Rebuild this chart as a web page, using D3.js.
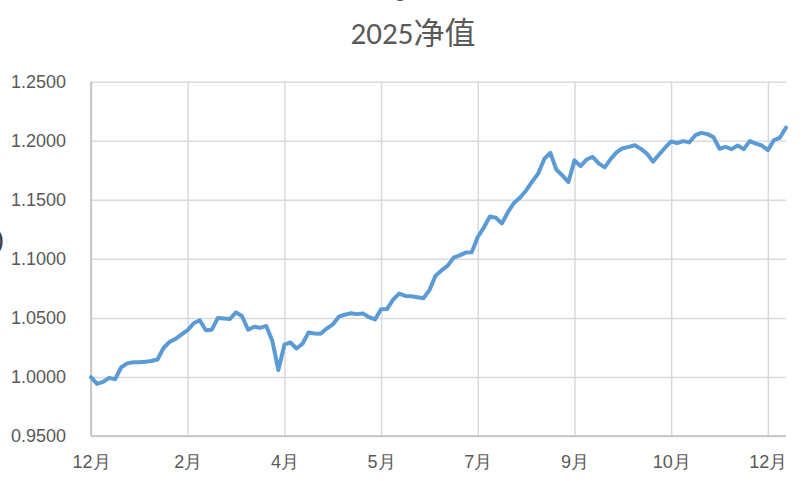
<!DOCTYPE html>
<html>
<head>
<meta charset="utf-8">
<script src="https://cdn.jsdelivr.net/npm/d3@7"></script>
<style>
	body { margin: 0; background: #fff; }
	svg { display: block; font-family: Calibri, Carlito, Roboto, 'Noto Sans CJK SC', sans-serif; }
	.grid line { stroke: #d9d9d9; stroke-width: 1.5; }
	.grid path { display: none; }
	.label text { fill: #595959; }
	.label path, .label line { display: none; }
</style>
</head>
<body>
<div id="chart"></div>
<script>
var title = '2025净值';
var yTicks = [0.95, 1.00, 1.05, 1.10, 1.15, 1.20, 1.25];
var xTickIndex = [0, 16, 32, 48, 64, 80, 96, 112];
var xTickLabels = ['12月', '2月', '4月', '5月', '7月', '9月', '10月', '12月'];
var values = [
	0.9998, 0.9941, 0.9958, 0.9992, 0.9981, 1.0082, 1.0115, 1.0124, 1.0125, 1.0128,
	1.0135, 1.0148, 1.0245, 1.0297, 1.0322, 1.0361, 1.0397, 1.0455, 1.0480, 1.0395,
	1.0400, 1.0500, 1.0495, 1.0491, 1.0547, 1.0514, 1.0400, 1.0425, 1.0416, 1.0432,
	1.0307, 1.0059, 1.0273, 1.0292, 1.0241, 1.0281, 1.0376, 1.0368, 1.0366, 1.0410,
	1.0445, 1.0510, 1.0527, 1.0539, 1.0532, 1.0538, 1.0506, 1.0487, 1.0574, 1.0576,
	1.0656, 1.0706, 1.0686, 1.0684, 1.0675, 1.0666, 1.0735, 1.0857, 1.0902, 1.0940,
	1.1010, 1.1029, 1.1053, 1.1055, 1.1185, 1.1265, 1.1358, 1.1348, 1.1300, 1.1397,
	1.1473, 1.1520, 1.1579, 1.1654, 1.1723, 1.1846, 1.1898, 1.1756, 1.1706, 1.1650,
	1.1834, 1.1786, 1.1841, 1.1863, 1.1809, 1.1775, 1.1846, 1.1903, 1.1937, 1.1948,
	1.1962, 1.1931, 1.1890, 1.1823, 1.1883, 1.1941, 1.1994, 1.1981, 1.1997, 1.1986,
	1.2047, 1.2067, 1.2056, 1.2031, 1.1932, 1.1948, 1.1929, 1.1960, 1.1929, 1.1997,
	1.1976, 1.1960, 1.1920, 1.2004, 1.2027, 1.2111
];

(function() {
	var width = 809, height = 481;
	var plot = { left: 91, right: 786, top: 81.7, bottom: 436 };

	var svg = d3.select('#chart').append('svg')
		.attr('width', width)
		.attr('height', height);

	var x = d3.scaleLinear()
		.domain([0, values.length - 1])
		.range([plot.left, plot.right]);
	var y = d3.scaleLinear()
		.domain([0.95, 1.25])
		.range([plot.bottom, plot.top]);

	// horizontal grid
	svg.append('g')
		.attr('class', 'grid')
		.attr('transform', 'translate(' + plot.left + ',0)')
		.call(d3.axisLeft(y).tickValues(yTicks).tickSize(-(plot.right - plot.left)).tickFormat(''));

	// vertical grid at the category labels
	svg.append('g')
		.attr('class', 'grid')
		.attr('transform', 'translate(0,' + plot.top + ')')
		.call(d3.axisTop(x).tickValues(xTickIndex).tickSize(-(plot.bottom - plot.top)).tickFormat(''));

	// axis lines
	svg.append('line')
		.attr('x1', plot.left).attr('x2', plot.left)
		.attr('y1', plot.top).attr('y2', plot.bottom)
		.attr('stroke', '#bfbfbf').attr('stroke-width', 1.5);
	svg.append('line')
		.attr('x1', plot.left).attr('x2', plot.right)
		.attr('y1', plot.bottom).attr('y2', plot.bottom)
		.attr('stroke', '#bfbfbf').attr('stroke-width', 1.5);

	// tick labels
	svg.append('g')
		.attr('class', 'label')
		.attr('transform', 'translate(66,0)')
		.call(d3.axisLeft(y).tickValues(yTicks).tickSize(0).tickPadding(0).tickFormat(d3.format('.4f')))
		.selectAll('text')
		.attr('font-size', 18)
		.attr('font-family', null);

	svg.append('g')
		.attr('class', 'label')
		.attr('transform', 'translate(0,' + plot.bottom + ')')
		.call(d3.axisBottom(x).tickValues(xTickIndex).tickSize(0).tickPadding(19)
			.tickFormat(function(d, i) { return xTickLabels[i]; }))
		.selectAll('text')
		.attr('font-size', 18)
		.attr('font-family', null);

	var line = d3.line()
		.x(function(d, i) { return x(i); })
		.y(function(d) { return y(d); });

	svg.append('path')
		.datum(values)
		.attr('d', line)
		.attr('fill', 'none')
		.attr('stroke', '#5b9bd5')
		.attr('stroke-width', 4)
		.attr('stroke-linejoin', 'round')
		.attr('stroke-linecap', 'round');

	svg.append('text')
		.attr('x', 413)
		.attr('y', 44)
		.attr('text-anchor', 'middle')
		.attr('font-size', 31)
		.attr('fill', '#595959')
		.text(title);

	// bits of cut off text at the edges
	svg.append('text')
		.attr('x', -3).attr('y', 248)
		.attr('font-size', 22)
		.attr('font-weight', 'bold')
		.attr('fill', '#404040')
		.text(')');
	svg.append('text')
		.attr('x', 395).attr('y', -3)
		.attr('font-size', 22)
		.attr('fill', '#595959')
		.text('g');
})();
</script>
</body>
</html>
